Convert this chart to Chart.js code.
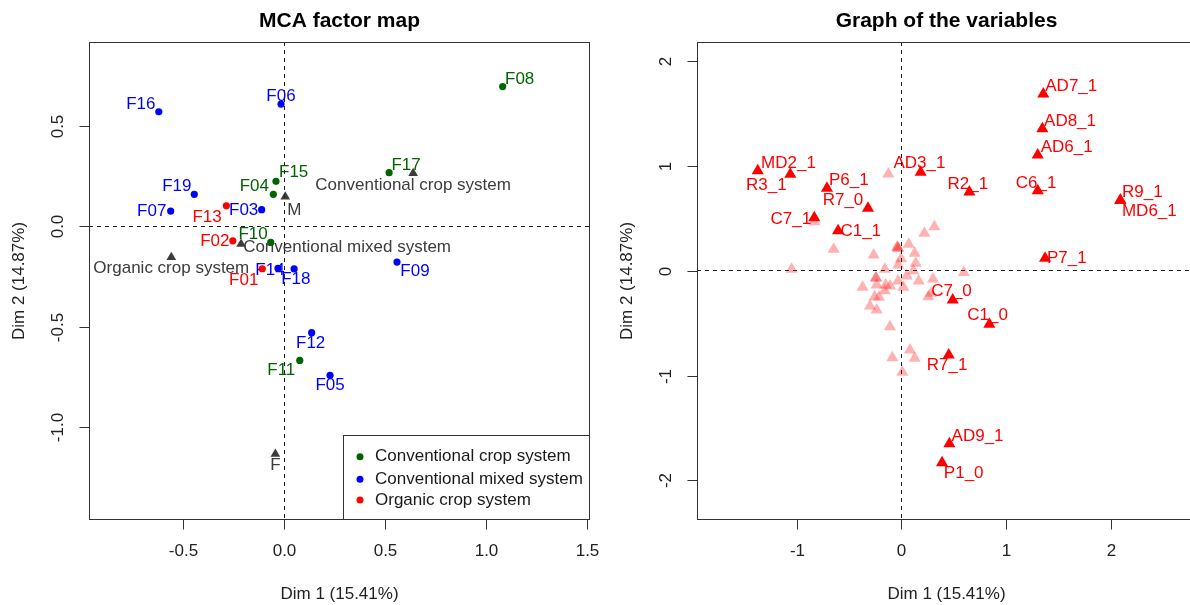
<!DOCTYPE html>
<html>
<head>
<meta charset="utf-8">
<script src="https://cdn.jsdelivr.net/npm/chart.js@4.4.0/dist/chart.umd.min.js"></script>
<style>
html, body { margin: 0; padding: 0; background: #fff; width: 1190px; height: 605px; overflow: hidden; }
#mcaMap { position: absolute; left: 0; top: 0; }
#varMap { position: absolute; left: 595px; top: 0; }
</style>
</head>
<body>
<canvas id="mcaMap" width="612" height="605"></canvas>
<canvas id="varMap" width="610" height="605"></canvas>
<script>
// ---- data: individuals (left panel) ----
const groupNames = ['Conventional crop system', 'Conventional mixed system', 'Organic crop system'];
const indNames = ['F01','F02','F03','F04','F05','F06','F07','F08','F09','F10','F11','F12','F13','F14','F15','F16','F17','F18','F19'];
const indX = [-0.108, -0.254, -0.111, -0.053, 0.228, -0.015, -0.562, 1.084, 0.560, -0.066, 0.078, 0.137, -0.286, -0.030, -0.040, -0.621, 0.521, 0.050, -0.445];
const indY = [-0.211, -0.072, 0.083, 0.159, -0.741, 0.608, 0.076, 0.695, -0.178, -0.080, -0.667, -0.529, 0.102, -0.209, 0.224, 0.570, 0.267, -0.212, 0.159];
const indGroup = [2, 2, 1, 0, 1, 1, 1, 0, 1, 0, 0, 1, 2, 1, 0, 1, 0, 1, 1];

// supplementary categories
const supNames = ['Conventional crop system', 'Conventional mixed system', 'Organic crop system', 'F', 'M'];
const supX = [0.640, -0.213, -0.559, -0.043, 0.006];
const supY = [0.264, -0.088, -0.154, -1.133, 0.147];

// ---- data: variables (right panel) ----
const varNames = ['R3_1','MD2_1','P6_1','R7_0','C7_1','C1_1','AD3_1','AD7_1','AD8_1','AD6_1','R2_1','C6_1','R9_1','MD6_1','P7_1','C7_0','C1_0','R7_1','AD9_1','P1_0'];
const varX = [-1.373, -1.062, -0.712, -0.320, -0.833, -0.606, 0.183, 1.354, 1.345, 1.301, 0.648, 1.301, 2.090, 2.090, 1.371, 0.489, 0.839, 0.451, 0.457, 0.387];
const varY = [0.954, 0.920, 0.786, 0.595, 0.506, 0.382, 0.939, 1.686, 1.355, 1.104, 0.751, 0.763, 0.672, 0.672, 0.118, -0.280, -0.512, -0.804, -1.651, -1.832];
// other (unlabelled) categories
const otherX = [-0.126, 0.314, 0.218, -0.648, -0.040, -0.040, -0.030, 0.069, -0.266, 0.126, -0.005, 0.136, -0.031, -1.049, -0.158, 0.113, 0.594, 0.050, -0.244, -0.244, -0.033, 0.164, 0.301, -0.371, -0.237, -0.151, -0.110, 0.017, -0.161, -0.256, -0.215, 0.256, 0.282, -0.301, -0.237, -0.110, 0.081, -0.088, 0.126, 0.008, -0.833];
const otherY = [0.923, 0.420, 0.357, 0.204, 0.219, 0.225, 0.212, 0.252, 0.150, 0.166, 0.115, 0.071, 0.054, 0.013, 0.013, 0.000, -0.016, -0.051, -0.073, -0.068, -0.098, -0.098, -0.079, -0.159, -0.136, -0.136, -0.146, -0.159, -0.191, -0.248, -0.254, -0.248, -0.216, -0.337, -0.375, -0.534, -0.757, -0.830, -0.836, -0.970, 0.468];

// ---- ticks ----
const leftXTicks = [-0.5, 0.0, 0.5, 1.0, 1.5];
const leftYTicks = [-1.0, -0.5, 0.0, 0.5];
const rightXTicks = [-1, 0, 1, 2];
const rightYTicks = [-2, -1, 0, 1, 2];

// label placement (pixel nudges of label centre from the point)
const labelNudge = {
    F16: [-18, -7.7], F06: [0, -8], F15: [17.7, -8.7], F04: [-19, -7.7], F19: [-17.5, -7.7],
    F07: [-19, 0.7], F13: [-19.3, 11], F03: [-18, 1], F08: [17, -7.7], F17: [17, -7],
    F10: [-17.7, -8], F02: [-18, 1], F01: [-18.5, 11.3], F14: [-8, 2], F18: [1.7, 10.3],
    F12: [-1, 10.7], F11: [-18.5, 10.3], F05: [0, 10.3], F09: [18, 9],
    'Conventional crop system': [0, 11.7], 'Conventional mixed system': [106, 3.3],
    'Organic crop system': [0, 11], M: [9, 13.3], F: [0, 11.7],
    R3_1: [8.6, 14.3], MD2_1: [-1.8, -11], P6_1: [21.8, -8.3], R7_0: [-25, -8.3], C7_1: [-23.5, 1.3],
    C1_1: [22.7, 1], AD3_1: [-1.2, -9.3], AD7_1: [28, -8], AD8_1: [27.7, -7.7], AD6_1: [29, -7.7],
    R2_1: [-1.5, -8], C6_1: [-1.7, -7.4], R9_1: [22, -8], MD6_1: [29, 11.4], P7_1: [21.7, 0],
    C7_0: [-1.2, -8.3], C1_0: [-1.8, -8.6], R7_1: [-1.7, 10.7], AD9_1: [28.2, -7.7], P1_0: [21.7, 10.6]
};

const FONT = '"Liberation Sans", Arial, sans-serif';
const groupColors = ['#006400', '#0000FF', '#FF0000'];
const supColor = '#3c3c3c';

function toPoints(xs, ys) {
    return xs.map((x, i) => ({ x: x, y: ys[i] }));
}

// R-like decorations: labels, dashed axes, box, ticks, titles
function rPlot(opts) {
    return {
        id: 'rplot',
        beforeDatasetsDraw(chart) {
            const ctx = chart.ctx;
            ctx.save();
            ctx.font = '17px ' + FONT;
            ctx.textAlign = 'center';
            ctx.textBaseline = 'middle';
            chart.data.datasets.forEach((ds, di) => {
                if (!ds.pointLabels) return;
                const meta = chart.getDatasetMeta(di);
                ctx.fillStyle = ds.labelColor;
                meta.data.forEach((pt, i) => {
                    const name = ds.pointLabels[i];
                    const n = labelNudge[name] || [0, -8];
                    ctx.fillText(name, pt.x + n[0], pt.y + n[1]);
                });
            });
            ctx.restore();
        },
        afterDatasetsDraw(chart) {
            const ctx = chart.ctx, a = chart.chartArea;
            const x0 = Math.floor(chart.scales.x.getPixelForValue(0)) + 0.5;
            const y0 = Math.floor(chart.scales.y.getPixelForValue(0)) + 0.5;
            ctx.save();
            ctx.strokeStyle = '#222';
            ctx.lineWidth = 1;
            ctx.setLineDash([4, 4]);
            ctx.beginPath();
            ctx.moveTo(x0, a.top); ctx.lineTo(x0, a.bottom);
            ctx.moveTo(a.left, y0); ctx.lineTo(a.right, y0);
            ctx.stroke();
            ctx.restore();
        },
        afterDraw(chart) {
            const ctx = chart.ctx, a = chart.chartArea;
            const L = a.left + 0.5, R = a.right + 0.5, T = a.top + 0.5, B = a.bottom + 0.5;
            ctx.save();
            ctx.strokeStyle = '#333';
            ctx.lineWidth = 1;
            ctx.strokeRect(L, T, R - L, B - T);

            ctx.fillStyle = '#222';
            ctx.font = '17px ' + FONT;
            ctx.textAlign = 'center';
            ctx.textBaseline = 'middle';
            // x ticks
            opts.xTicks.forEach(v => {
                const px = Math.round(chart.scales.x.getPixelForValue(v)) + 0.5;
                ctx.beginPath(); ctx.moveTo(px, B); ctx.lineTo(px, B + 10); ctx.stroke();
                ctx.fillText(opts.fmt(v), px, 551);
            });
            // y ticks (labels parallel to axis)
            opts.yTicks.forEach(v => {
                const py = Math.round(chart.scales.y.getPixelForValue(v)) + 0.5;
                ctx.beginPath(); ctx.moveTo(L, py); ctx.lineTo(L - 10, py); ctx.stroke();
                ctx.save();
                ctx.translate(L - 31.5, py);
                ctx.rotate(-Math.PI / 2);
                ctx.fillText(opts.fmt(v), 0, 0);
                ctx.restore();
            });
            // axis titles
            ctx.fillText('Dim 1 (15.41%)', (L + R) / 2, 594);
            ctx.save();
            ctx.translate(L - 70.5, (T + B) / 2);
            ctx.rotate(-Math.PI / 2);
            ctx.fillText('Dim 2 (14.87%)', 0, 0);
            ctx.restore();
            // main title
            ctx.fillStyle = '#000';
            ctx.font = 'bold 21px ' + FONT;
            ctx.fillText(opts.title, (L + R) / 2, 21);

            // legend
            if (opts.legend) {
                const lx = 343.5, ly = 435.5;
                ctx.strokeStyle = '#333';
                ctx.strokeRect(lx, ly, R - lx, B - ly);
                const rows = [456.7, 479.3, 500];
                ctx.font = '17px ' + FONT;
                ctx.textAlign = 'left';
                groupNames.forEach((g, i) => {
                    ctx.fillStyle = groupColors[i];
                    ctx.beginPath(); ctx.arc(360, rows[i], 3.5, 0, Math.PI * 2); ctx.fill();
                    ctx.fillStyle = '#1a1a1a';
                    ctx.fillText(g, 375, rows[i]);
                });
            }
            ctx.restore();
        }
    };
}

const baseOptions = (xMin, xMax, yMin, yMax, pad) => ({
    responsive: false,
    animation: false,
    devicePixelRatio: 1,
    layout: { padding: pad },
    plugins: { legend: { display: false }, tooltip: { enabled: false } },
    scales: {
        x: { type: 'linear', min: xMin, max: xMax, display: false },
        y: { type: 'linear', min: yMin, max: yMax, display: false }
    }
});

// ---- left panel: MCA factor map ----
const leftSets = groupNames.map((g, gi) => {
    const idx = indNames.map((n, i) => i).filter(i => indGroup[i] === gi);
    return {
        label: g,
        data: idx.map(i => ({ x: indX[i], y: indY[i] })),
        pointLabels: idx.map(i => indNames[i]),
        labelColor: groupColors[gi],
        pointStyle: 'circle',
        pointRadius: 3.6,
        pointBorderWidth: 0,
        backgroundColor: groupColors[gi],
        borderColor: groupColors[gi]
    };
});
leftSets.push({
    label: 'supplementary',
    data: toPoints(supX, supY),
    pointLabels: supNames,
    labelColor: supColor,
    pointStyle: 'triangle',
    pointRadius: 5.6,
    pointBorderWidth: 0,
    backgroundColor: supColor,
    borderColor: supColor
});

new Chart(document.getElementById('mcaMap'), {
    type: 'scatter',
    data: { datasets: leftSets },
    options: baseOptions(-0.967, 1.512, -1.456, 0.917, { left: 89, right: 23, top: 42, bottom: 86 }),
    plugins: [rPlot({
        title: 'MCA factor map',
        xTicks: leftXTicks, yTicks: leftYTicks,
        fmt: v => v.toFixed(1),
        legend: true
    })]
});

// ---- right panel: graph of the variables ----
new Chart(document.getElementById('varMap'), {
    type: 'scatter',
    data: {
        datasets: [{
            label: 'labelled',
            data: toPoints(varX, varY),
            pointLabels: varNames,
            labelColor: '#FF0000',
            pointStyle: 'triangle',
            pointRadius: 7,
            pointBorderWidth: 0,
            backgroundColor: '#FF0000',
            borderColor: '#FF0000',
            order: 0
        }, {
            label: 'other',
            data: toPoints(otherX, otherY),
            pointStyle: 'triangle',
            pointRadius: 7,
            pointBorderWidth: 0,
            backgroundColor: 'rgba(255,0,0,0.3)',
            borderColor: 'rgba(255,0,0,0.3)',
            order: 1
        }]
    },
    options: baseOptions(-1.953, 2.803, -2.369, 2.182, { left: 102, right: 10, top: 42, bottom: 86 }),
    plugins: [rPlot({
        title: 'Graph of the variables',
        xTicks: rightXTicks, yTicks: rightYTicks,
        fmt: v => String(v),
        legend: false
    })]
});
</script>
</body>
</html>
